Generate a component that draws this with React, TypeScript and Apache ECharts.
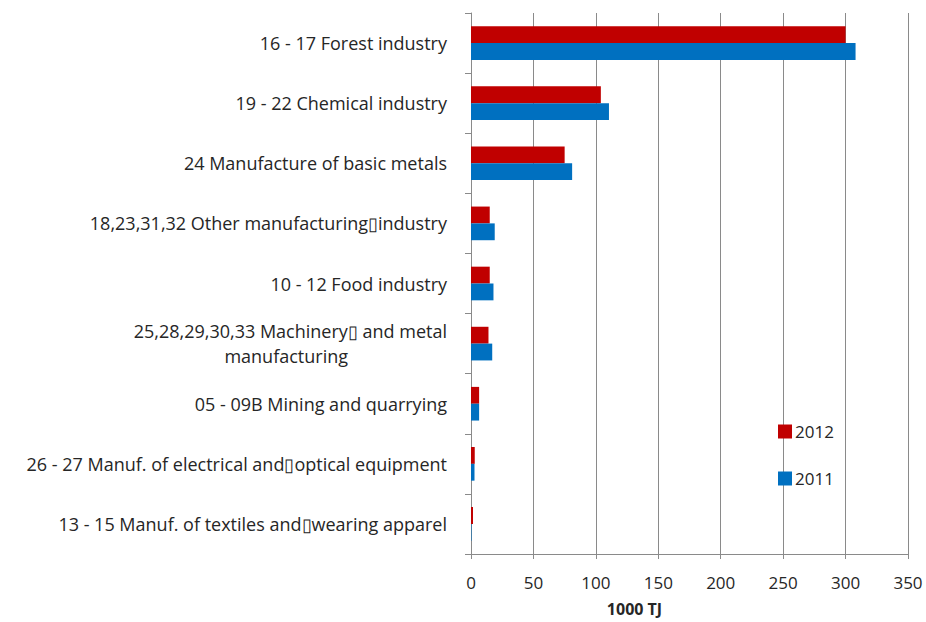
import React, { useEffect, useRef } from "react";
import * as echarts from "echarts";

const categories = [
  "16 - 17 Forest industry",
  "19 - 22 Chemical industry",
  "24 Manufacture of basic metals",
  "18,23,31,32 Other manufacturing\u25AFindustry",
  "10 - 12 Food industry",
  "25,28,29,30,33 Machinery\u25AF and metal manufacturing",
  "05 - 09B Mining and quarrying",
  "26 - 27 Manuf. of electrical and\u25AFoptical equipment",
  "13 - 15 Manuf. of textiles and\u25AFwearing apparel",
];
const values2012 = [300, 104, 75, 15, 15, 14, 6.5, 3, 1.6];
const values2011 = [308, 110.5, 81, 19, 18, 17, 6.5, 2.8, 0.4];
const xTicks = { min: 0, max: 350, interval: 50 };
const axisTitle = "1000 TJ";

export default function App() {
  const ref = useRef<HTMLDivElement>(null);
  useEffect(() => {
    if (!ref.current) return;
    const chart = echarts.init(ref.current, null, { renderer: "svg" });
    const font = "Open Sans";
    const txt = "#262626";
    const grey = "#8a8a8a";
    chart.setOption({
      animation: false,
      backgroundColor: "#fff",
      textStyle: { fontFamily: font },
      grid: { left: 471, right: 18, top: 13, bottom: 65, containLabel: false },
      legend: {
        orient: "vertical",
        left: 773,
        top: 418,
        itemWidth: 14,
        itemHeight: 14,
        itemGap: 30,
        icon: "rect",
        data: ["2012", "2011"],
        textStyle: { fontFamily: font, fontSize: 17, color: txt, padding: [0, 0, 0, -2] },
      },
      xAxis: {
        type: "value",
        min: xTicks.min,
        max: xTicks.max,
        interval: xTicks.interval,
        axisLine: { show: true, lineStyle: { color: grey, width: 1 } },
        axisTick: { show: true, length: 5, lineStyle: { color: grey } },
        axisLabel: { margin: 20, fontSize: 17, color: txt, fontFamily: font },
        splitLine: { show: true, lineStyle: { color: grey, width: 1 } },
        name: axisTitle,
        nameLocation: "middle",
        nameGap: 47,
        nameTextStyle: {
          fontFamily: font,
          fontWeight: "bold",
          fontSize: 16,
          color: txt,
          padding: [0, 110, 0, 0],
        },
      },
      yAxis: {
        type: "category",
        inverse: true,
        data: categories,
        axisLine: { show: true, lineStyle: { color: grey, width: 1 } },
        axisTick: { show: true, length: 6, lineStyle: { color: grey } },
        axisLabel: {
          margin: 24,
          fontSize: 18,
          color: txt,
          fontFamily: font,
          lineHeight: 25,
          formatter: (v: string) => {
            if (v.indexOf("Machinery") >= 0) {
              const i = v.indexOf(" manufacturing");
              return "{l|" + v.slice(0, i) + "}\n{l|" + v.slice(i + 1) + "}{p|}";
            }
            return v;
          },
          rich: {
            l: { fontSize: 18, color: txt, fontFamily: font, lineHeight: 25 },
            p: { width: 99, height: 10 },
          },
        },
        splitLine: { show: false },
      },
      series: [
        {
          name: "2012",
          type: "bar",
          data: values2012,
          itemStyle: { color: "#C00000" },
          barGap: "0%",
          barCategoryGap: "44%",
        },
        {
          name: "2011",
          type: "bar",
          data: values2011,
          itemStyle: { color: "#0070C0" },
          barGap: "0%",
          barCategoryGap: "44%",
        },
      ],
    });
    return () => chart.dispose();
  }, []);
  return (
    <div
      ref={ref}
      style={{ position: "absolute", left: 0, top: 0, width: 926, height: 622 }}
    />
  );
}
